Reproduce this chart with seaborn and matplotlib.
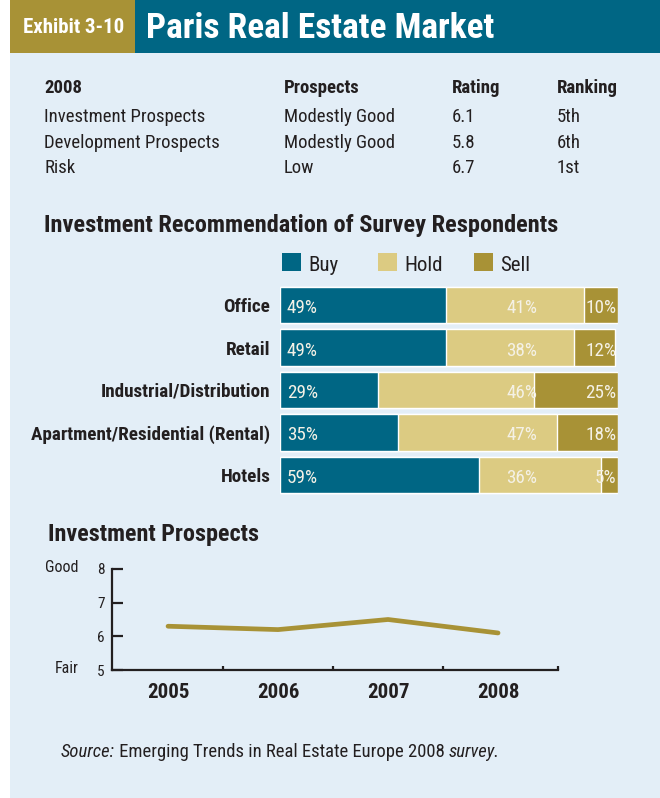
import matplotlib
matplotlib.use("Agg")
import matplotlib.pyplot as plt
import numpy as np
import pandas as pd
import seaborn as sns
from matplotlib import font_manager
from matplotlib.patches import Rectangle

# ---- data -------------------------------------------------------------
table_header = ["2008", "Prospects", "Rating", "Ranking"]
table_rows = ["Investment Prospects", "Development Prospects", "Risk"]
table_prospects = ["Modestly Good", "Modestly Good", "Low"]
table_rating = ["6.1", "5.8", "6.7"]
table_ranking = ["5th", "6th", "1st"]

sectors = ["Office", "Retail", "Industrial/Distribution",
           "Apartment/Residential (Rental)", "Hotels"]
buy = [49, 49, 29, 35, 59]
hold = [41, 38, 46, 47, 36]
sell = [10, 12, 25, 18, 5]
rec_labels = ["Buy", "Hold", "Sell"]

years = [2005, 2006, 2007, 2008]
prospects = [6.3, 6.2, 6.5, 6.1]
y_ticks = [5, 6, 7, 8]

# ---- style ------------------------------------------------------------
TEAL = "#006684"
GOLD = "#a89236"
HOLD = "#dccb82"
PANEL = "#e3eef7"
INK = "#231f20"
LABEL_WHITE = "#f4f1e6"

sns.set_theme(style="white")
installed = {f.name for f in font_manager.fontManager.ttflist}
family = "DejaVu Sans"
for cand in ["Liberation Sans Narrow", "Roboto Condensed", "Open Sans Condensed", "DejaVu Sans Condensed"]:
    if cand in installed:
        family = cand
        break
plt.rcParams["font.family"] = [family, "DejaVu Sans"]

W, H = 660, 798
fig = plt.figure(figsize=(W / 100, H / 100), dpi=100)
fig.patch.set_facecolor("white")


def fx(x):
    return x / W


def fy(y):
    return 1 - y / H


def text(x, y, s, **kw):
    kw.setdefault("va", "baseline")
    kw.setdefault("color", INK)
    return fig.text(fx(x), fy(y), s, **kw)


def axes_px(left, top, right, bottom):
    return fig.add_axes([left / W, 1 - bottom / H, (right - left) / W, (bottom - top) / H])


def rect_px(x0, y0, x1, y1, color):
    fig.add_artist(Rectangle((fx(x0), fy(y1)), (x1 - x0) / W, (y1 - y0) / H,
                             transform=fig.transFigure, color=color, zorder=-10, lw=0))


# background panel and header band
rect_px(10, 53, W, H, PANEL)
rect_px(10, 0, 135, 53, GOLD)
rect_px(135, 0, W, 53, TEAL)
text(74, 33, "Exhibit 3-10", color="white", fontsize=15, fontweight="bold", ha="center")
text(146, 38, "Paris Real Estate Market", color="white", fontsize=25.5, fontweight="bold")

# ---- summary table ------------------------------------------------------
col_x = [44, 284, 452, 557]
for x, s in zip(col_x, table_header):
    text(x, 93, s, fontsize=13.5, fontweight="bold")
for i, base in enumerate([122, 147.5, 173]):
    for x, s in zip(col_x, [table_rows[i], table_prospects[i], table_rating[i], table_ranking[i]]):
        text(x, base, s, fontsize=13.5)

# ---- recommendation bars ------------------------------------------------
text(44, 232, "Investment Recommendation of Survey Respondents", fontsize=17.6, fontweight="bold")

legend_x = [282, 378, 474]
for x, lab, col in zip(legend_x, rec_labels, [TEAL, HOLD, GOLD]):
    rect_px(x, 253, x + 19, 271, col)
    text(x + 26, 271, lab, fontsize=15)

df = pd.DataFrame({"sector": sectors, "buy": buy, "hold": hold, "sell": sell})
df["buy_hold"] = df["buy"] + df["hold"]
df["total"] = df["buy_hold"] + df["sell"]

ax = axes_px(280, 284, 618, 496)
ax.set_facecolor("none")
for col, color in [("total", GOLD), ("buy_hold", HOLD), ("buy", TEAL)]:
    sns.barplot(data=df, x=col, y="sector", orient="h", color=color,
                saturation=1, width=0.86, ax=ax)
ax.set_xlim(0, 100)
ax.set_ylim(4.5, -0.5)
ax.set_xlabel("")
ax.set_ylabel("")
ax.set_xticks([])
sns.despine(ax=ax, left=True, bottom=True)
ax.tick_params(axis="y", length=0, pad=7, labelsize=13.8)
for t in ax.get_yticklabels():
    t.set_fontweight("bold")
    t.set_color(INK)

for i, row in df.iterrows():
    yb = i + 0.19
    ax.text(2, yb, f"{row['buy']}%", color=LABEL_WHITE, fontsize=13.8, ha="left", va="baseline")
    ax.text(71.5, yb, f"{row['hold']}%", color=LABEL_WHITE, fontsize=13.8, ha="center", va="baseline")
    ax.text(99.6, yb, f"{row['sell']}%", color=LABEL_WHITE, fontsize=13.8, ha="right", va="baseline")

# ---- investment prospects line -----------------------------------------
text(48, 541, "Investment Prospects", fontsize=17.4, fontweight="bold")

ax2 = axes_px(111.5, 569, 558, 670)
ax2.set_facecolor("none")
sns.lineplot(x=years, y=prospects, color=GOLD, linewidth=3.4, ax=ax2)
ax2.set_xlim(2004.486, 2008.545)
ax2.set_ylim(5, 8)
sns.despine(ax=ax2)
for side in ["left", "bottom"]:
    ax2.spines[side].set_color(INK)
    ax2.spines[side].set_linewidth(1.6)
    ax2.spines[side].set_visible(True)
ax2.set_yticks(y_ticks)
ax2.set_yticklabels([str(v) for v in y_ticks])
ax2.tick_params(axis="y", direction="in", length=8, width=1.6, color=INK,
                labelsize=11, pad=5, labelcolor=INK, left=True)
ax2.set_xticks(years)
ax2.set_xticklabels([str(y) for y in years])
ax2.tick_params(axis="x", which="major", length=0, pad=9, labelsize=15, labelcolor=INK)
ax2.set_xticks([2005.5, 2006.5, 2007.5, 2008.545], minor=True)
ax2.tick_params(axis="x", which="minor", direction="in", length=3, width=1.6, color=INK, bottom=True)
for t in ax2.get_xticklabels():
    t.set_fontweight("bold")
ax2.set_xlabel("")
ax2.set_ylabel("")
ax2.grid(False)
text(79, 572, "Good", fontsize=11.5, ha="right")
text(79, 673, "Fair", fontsize=11.5, ha="right")

# ---- source line --------------------------------------------------------
renderer = fig.canvas.get_renderer()
x = 61
for s, style in [("Source:", "italic"), (" Emerging Trends in Real Estate Europe 2008 ", "normal"),
                 ("survey.", "italic")]:
    t = text(x, 757, s, fontsize=13.4, fontstyle=style)
    bb = t.get_window_extent(renderer)
    x += bb.width

fig.savefig("out.png", dpi=100, facecolor=fig.get_facecolor())
